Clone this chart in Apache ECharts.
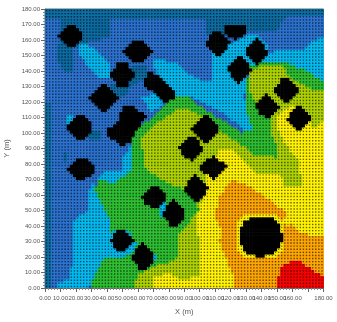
<!DOCTYPE html>
<html><head><meta charset="utf-8">
<style>html,body{margin:0;padding:0;background:#fff}#c{width:337px;height:322px}</style>
<script src="https://cdn.jsdelivr.net/npm/echarts@6/dist/echarts.min.js"></script>
</head><body><div id="c"></div>
<script>
const levelColors = ['#0b6aa0','#2a70cc','#00b8ee','#2cbc30','#acd000','#fff200','#fca400','#f60000','#000000'];
const axisTicks = {min:0,max:180,step:10};
const cellSize = 2;

const tealBands = [
 [[0,180],[180,180],[180,176.5],[156,176],[150,167],[128,165],[105,165],[105,175],[0,175]],
 [[0,0],[5,0],[5,120],[0,120]],
 [[10,174],[42,174],[42,162],[30,160],[24,156],[10,156]],
 [[8,158],[18,158],[18,141],[12,141],[8,148]],
 [[56,145],[66,145],[66,134],[56,132],[53,125],[43,125],[43,132],[56,134]],
 [[29,96],[36,96],[36,103],[29,103]],
 [[12,83],[15,83],[15,89],[12,89]]
];
const greenMain = [[29,0],[180,0],[180,136],[165,143],[152,148],[144,147],[133,145],[130,130],[128,100],[100,118],[94,123],[79,125],[81,121],[58,101],[56,93],[56,76],[46,72],[36,72],[31,62],[31,10]];
const cyanBands = [
 [[22.7,157.8],[29.2,156.8],[42.1,143.9],[41,135.3],[34.6,136],[28,142.8],[22.7,150.3]],
 [[70,147],[75,148.5],[79,146],[85.5,145],[92,139.5],[102.8,134],[108,135],[108,157],[117,157],[130,163],[136,164],[144,157],[144,152.5],[152.5,153.5],[165,153.5],[174,160],[180,162.5],[180,134],[172,138.5],[165.4,142],[152.5,147],[144,146],[133,144],[130,134],[128.7,123.4],[131,111.6],[134,103],[128.7,103],[119,110.5],[111.4,116],[100.6,120],[94,124.6],[79,124.5],[80,121],[68,114],[62.6,123.4],[72,126],[72,137]],
 [[7.6,0],[8,3.5],[15,6.3],[18.4,18],[18.4,44],[28,50.3],[28,63.2],[37.8,76],[49.7,76],[50.3,82.6],[50.8,84.7],[56,93],[56,76],[45.4,68.6],[32.4,69.7],[32.4,63.2],[38.9,50.3],[42,45],[42,36.4],[47.5,38],[54,37.4],[59.8,28.8],[56,23.5],[49.7,20.2],[37.8,19.2],[32.4,9.5],[28,0]],
 [[74.5,46],[79,46],[79,57],[74.5,57]],
 [[15,106],[19,106],[19,112],[15,112]],
 [[68,18],[72,18],[72,22],[68,22]]
];
const oliveMain = [[58.3,0],[59.4,8.4],[72.3,14.9],[84.2,18],[86.4,21.3],[86.4,35.3],[95,45],[99.3,50.4],[98.2,56.8],[90,64],[81,67.5],[65.9,76],[63.7,82.6],[62.6,93.3],[61.5,95.5],[72.4,107.3],[81,112.7],[87.6,117.4],[94,114.8],[102.8,111.6],[111.4,103],[119.8,97.6],[127.4,92.2],[135,86.8],[150,84.7],[150.7,92.2],[145.7,99.7],[145.7,106],[146.8,112.6],[136.2,121],[132,127.7],[132,135],[133,142],[143.8,144],[154.6,143],[157.8,136.8],[169.7,130],[180,126.7],[180,0]];
const yellowMain = [[70,0],[70.2,8.4],[79.9,9.5],[87.4,6.3],[97.2,7.3],[99.3,8.4],[99.3,34.2],[97.2,35.3],[98.2,48.2],[101.5,56.8],[103.8,69.7],[107,80],[112.3,89],[119.8,90],[129.5,82.5],[137,75],[153,72.9],[154.4,66.4],[166.3,66.4],[163,83.6],[156.5,92.2],[151,102],[150.3,110.5],[153.5,114.8],[160,118],[169,113],[172.7,103],[180,108.3],[180,0]];
const orangeMain = [[110.3,50.3],[113.6,61],[120,69.7],[127.6,68.6],[139.5,61],[155.7,49.3],[155.7,46],[151.4,44],[156.8,40.6],[160,41.7],[165.4,36.4],[174,33.1],[180,33.6],[180,0],[122,0],[122,7.3],[115.7,22.4],[112.5,31],[114.6,37.4],[110.3,46]];
const yellowRing = [[128,47.5],[150,48],[154,43],[154,26],[149,20],[130,19],[125,24],[125,44]];
const redMain = [[150.3,0],[150.3,7.3],[153.5,14.8],[158.9,18],[164.3,18],[174,11.6],[180,7.3],[180,0]];
// blank areas: centre x, centre y, half width, half height
const blankX = [16.8,60,50,38,22.7,23.8,70.2,49.7,63.3,83.3,97.4,108.6,103.8,94.5,111.4,136.9,125.4,155.7,143.4,164.3,139.7];
const blankY = [163,153,138,123,104,77.2,58.9,31,20.2,48.2,64.3,78.3,103,90.5,158.3,152.5,141.7,128.2,117.4,109.5,33.7];
const blankW = [8,9,8.5,9,8.5,9,8.5,8,8,8,8,9,9,8,8,7.5,8,8,8,8,13.4];
const blankH = [8,8.5,9.5,9.5,9,8,8,8,9,9,9,7.5,9,8.5,8.5,9,9,9,8,8.5,12.8];
const blankPolys = [
 [[63,134],[68,141],[74,137],[78,132],[85,127],[83,122],[78,120],[73,124],[68,128],[64,130]],
 [[54,119.6],[65.9,111.6],[58.3,100.9],[56.2,95.5],[50.8,91.6],[41,97.6],[40.4,103],[46.4,107.3],[49.7,116]],
 [[116.8,169.7],[130.8,169.7],[131,165],[123.3,160],[116,165]]
];

const paintOrder = [
 [0,tealBands],[3,[greenMain]],[2,cyanBands],[4,[oliveMain]],[5,[yellowMain]],
 [6,[orangeMain]],[5,[yellowRing]],[7,[redMain]],[8,blankPolys]
];
function inPoly(x,y,p){let c=false;for(let i=0,j=p.length-1;i<p.length;j=i++){
 if((p[i][1]>y)!==(p[j][1]>y)&&x<(p[j][0]-p[i][0])*(y-p[i][1])/(p[j][1]-p[i][1])+p[i][0])c=!c;}return c;}
function levelAt(x,y){
 for(let b=0;b<blankX.length;b++){
  const big=blankW[b]>12, q=big?2.6:1.18;
  if(Math.pow(Math.abs(x-blankX[b])/blankW[b],q)+Math.pow(Math.abs(y-blankY[b])/blankH[b],q)<=1) return 8;
 }
 let lv=1;
 for(const [l,polys] of paintOrder){for(const p of polys){if(inPoly(x,y,p))lv=l;}}
 return lv;
}
const cells=[],dots=[];
for(let y=cellSize/2;y<180;y+=cellSize){for(let x=cellSize/2;x<180;x+=cellSize){
 cells.push([x,y,levelAt(x,y)]);dots.push([x,y]);}}

const axisCommon={type:'value',min:axisTicks.min,max:axisTicks.max,interval:axisTicks.step,
 axisLine:{show:true,onZero:false,lineStyle:{color:'#666',width:1}},
 axisTick:{show:true,length:4,lineStyle:{color:'#666'}},
 minorTick:{show:true,splitNumber:5,length:2,lineStyle:{color:'#888'}},
 splitLine:{show:false},minorSplitLine:{show:false},
 axisLabel:{fontFamily:'Liberation Sans',fontSize:6,color:'#555',showMinLabel:true,showMaxLabel:true,hideOverlap:false,formatter:v=>v.toFixed(2)},
 nameTextStyle:{fontFamily:'Liberation Sans',fontSize:7.5,color:'#555'},nameLocation:'middle'};
const chart=echarts.init(document.getElementById('c'),null,{renderer:'canvas'});
chart.setOption({animation:false,
 grid:{left:45,right:13.5,top:9,bottom:34,containLabel:false,outerBoundsMode:'none',show:true,borderColor:'#666',borderWidth:1,backgroundColor:'transparent'},
 xAxis:Object.assign({},axisCommon,{name:'X (m)',nameGap:20,axisLabel:Object.assign({},axisCommon.axisLabel,{margin:7})}),
 yAxis:Object.assign({},axisCommon,{name:'Y (m)',nameGap:33,axisLabel:Object.assign({},axisCommon.axisLabel,{margin:5})}),
 series:[
 {type:'custom',coordinateSystem:'cartesian2d',progressive:0,silent:true,clip:true,encode:{x:0,y:1},data:cells,
  renderItem:(params,api)=>{
   const a=api.coord([api.value(0)-cellSize/2,api.value(1)+cellSize/2]);
   const b=api.coord([api.value(0)+cellSize/2,api.value(1)-cellSize/2]);
   return {type:'rect',shape:{x:a[0],y:a[1],width:b[0]-a[0]+.6,height:b[1]-a[1]+.6},
    style:{fill:levelColors[api.value(2)],stroke:null}};
  }},
 {type:'scatter',coordinateSystem:'cartesian2d',progressive:0,silent:true,symbol:'rect',symbolSize:1.4,
  itemStyle:{color:'#000',opacity:.6},data:dots}
 ]});
</script></body></html>
